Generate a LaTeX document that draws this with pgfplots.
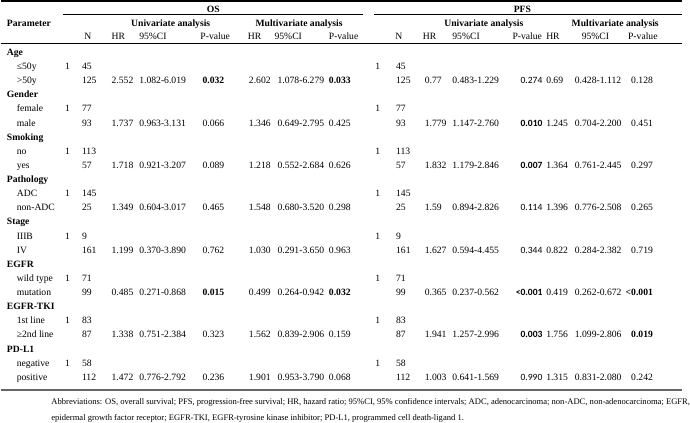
\documentclass[border=0pt]{standalone}
\usepackage{pgfplots}
\pgfplotsset{compat=1.18}
\usepackage{fontspec}
\setmainfont{Liberation Serif}
\newfontfamily\carlito{Carlito}
\newcommand{\fs}{\fontsize{9.8}{12}\selectfont}
\newcommand{\cbold}[1]{{\carlito\bfseries\fontsize{9.7}{12}\selectfont #1}}
\newcommand{\creg}[1]{{\carlito\fontsize{9.7}{12}\selectfont #1}}
\newcommand{\Lt}[3]{\node[anchor=base west,inner sep=0pt,font=\fs] at (axis cs:#1,#2) {#3};}
\newcommand{\Ct}[3]{\node[anchor=base,inner sep=0pt,font=\fs] at (axis cs:#1,#2) {#3};}
% OS columns: N, HR, CI, P, HR, CI, P
\newcommand{\osrow}[8]{\Lt{82}{#1}{#2}\Lt{112}{#1}{#3}\Lt{140}{#1}{#4}\Lt{204}{#1}{#5}%
  \Lt{251}{#1}{#6}\Lt{280}{#1}{#7}\Lt{332}{#1}{#8}}
% PFS columns
\newcommand{\pfsrow}[8]{\Lt{400}{#1}{#2}\Lt{429}{#1}{#3}\Lt{457}{#1}{#4}\Lt{526}{#1}{#5}%
  \Lt{552}{#1}{#6}\Lt{581}{#1}{#7}\Lt{638}{#1}{#8}}
% reference level row: y, level label, N
\newcommand{\refrow}[3]{\Lt{16}{#1}{#2}\Lt{65}{#1}{1}\Lt{82}{#1}{#3}\Lt{379}{#1}{1}\Lt{400}{#1}{#3}}
\begin{document}
\begin{tikzpicture}
\begin{axis}[
  width=690bp, height=432bp, scale only axis,
  xmin=0, xmax=690, ymin=0, ymax=432, y dir=reverse,
  axis lines=none, clip=false, xtick=\empty, ytick=\empty,
  rule/.style={black, mark=none},
]
% rules
\addplot[rule, line width=1.7bp] coordinates {(0,1.2)(690,1.2)};
\addplot[rule, line width=0.7bp] coordinates {(63,15)(367,15)};
\addplot[rule, line width=0.7bp] coordinates {(378,15)(690,15)};
\addplot[rule, line width=0.7bp] coordinates {(0,44.3)(690,44.3)};
\addplot[rule, line width=1.7bp, color=black!60] coordinates {(0,395.5)(690,395.5)};

% headers
\Ct{215}{13.5}{\bfseries OS}\Ct{528}{13.5}{\bfseries PFS}
\Ct{172}{27}{\bfseries Univariate analysis}\Ct{302}{27}{\bfseries Multivariate analysis}
\Ct{489}{27}{\bfseries Univariate analysis}\Ct{622}{27}{\bfseries Multivariate analysis}
\Lt{6}{27}{\bfseries Parameter}
\Ct{88}{40.5}{N}\Ct{119}{40.5}{HR}\Ct{154}{40.5}{95\%CI}\Ct{217}{40.5}{P-value}
\Ct{257}{40.5}{HR}\Ct{291}{40.5}{95\%CI}\Ct{347}{40.5}{P-value}
\Ct{403}{40.5}{N}\Ct{434}{40.5}{HR}\Ct{471}{40.5}{95\%CI}\Ct{533}{40.5}{P-value}
\Ct{559}{40.5}{HR}\Ct{602}{40.5}{95\%CI}\Ct{650}{40.5}{P-value}

% Age
\Lt{6}{56.5}{\bfseries Age}
\refrow{70.8}{≤50y}{45}
\Lt{16}{85.1}{>50y}
\osrow{85.1}{125}{2.552}{1.082-6.019}{\bfseries 0.032}{2.602}{1.078-6.279}{\bfseries 0.033}
\pfsrow{85.1}{125}{0.77}{0.483-1.229}{\creg{0.274}}{0.69}{0.428-1.112}{0.128}
% Gender
\Lt{6}{99.4}{\bfseries Gender}
\refrow{113.7}{female}{77}
\Lt{16}{128.0}{male}
\osrow{128.0}{93}{1.737}{0.963-3.131}{0.066}{1.346}{0.649-2.795}{0.425}
\pfsrow{128.0}{93}{1.779}{1.147-2.760}{\cbold{0.010}}{1.245}{0.704-2.200}{0.451}
% Smoking
\Lt{6}{142.3}{\bfseries Smoking}
\refrow{156.6}{no}{113}
\Lt{16}{170.9}{yes}
\osrow{170.9}{57}{1.718}{0.921-3.207}{0.089}{1.218}{0.552-2.684}{0.626}
\pfsrow{170.9}{57}{1.832}{1.179-2.846}{\cbold{0.007}}{1.364}{0.761-2.445}{0.297}
% Pathology
\Lt{6}{185.2}{\bfseries Pathology}
\refrow{199.5}{ADC}{145}
\Lt{16}{213.8}{non-ADC}
\osrow{213.8}{25}{1.349}{0.604-3.017}{0.465}{1.548}{0.680-3.520}{0.298}
\pfsrow{213.8}{25}{1.59}{0.894-2.826}{\creg{0.114}}{1.396}{0.776-2.508}{0.265}
% Stage
\Lt{6}{228.1}{\bfseries Stage}
\refrow{242.4}{IIIB}{9}
\Lt{16}{256.7}{IV}
\osrow{256.7}{161}{1.199}{0.370-3.890}{0.762}{1.030}{0.291-3.650}{0.963}
\pfsrow{256.7}{161}{1.627}{0.594-4.455}{\creg{0.344}}{0.822}{0.284-2.382}{0.719}
% EGFR
\Lt{6}{271.0}{\bfseries EGFR}
\refrow{285.3}{wild type}{71}
\Lt{16}{299.6}{mutation}
\osrow{299.6}{99}{0.485}{0.271-0.868}{\bfseries 0.015}{0.499}{0.264-0.942}{\bfseries 0.032}
\pfsrow{299.6}{99}{0.365}{0.237-0.562}{\llap{\cbold{<}}\cbold{0.001}}{0.419}{0.262-0.672}{\llap{\bfseries <}\bfseries 0.001}
% EGFR-TKI
\Lt{6}{313.9}{\bfseries EGFR-TKI}
\refrow{328.2}{1st line}{83}
\Lt{16}{342.5}{≥2nd line}
\osrow{342.5}{87}{1.338}{0.751-2.384}{0.323}{1.562}{0.839-2.906}{0.159}
\pfsrow{342.5}{87}{1.941}{1.257-2.996}{\cbold{0.003}}{1.756}{1.099-2.806}{\bfseries 0.019}
% PD-L1
\Lt{6}{356.8}{\bfseries PD-L1}
\refrow{371.1}{negative}{58}
\Lt{16}{385.4}{positive}
\osrow{385.4}{112}{1.472}{0.776-2.792}{0.236}{1.901}{0.953-3.790}{0.068}
\pfsrow{385.4}{112}{1.003}{0.641-1.569}{\creg{0.990}}{1.315}{0.831-2.080}{0.242}

% footnote
\node[anchor=base west,inner sep=0pt,font=\fontsize{8.7}{10}\selectfont] at (axis cs:51,409.5)
  {Abbreviations: OS, overall survival; PFS, progression-free survival; HR, hazard ratio; 95\%CI, 95\% confidence intervals; ADC, adenocarcinoma; non-ADC, non-adenocarcinoma; EGFR,};
\node[anchor=base west,inner sep=0pt,font=\fontsize{8.7}{10}\selectfont] at (axis cs:51,426)
  {epidermal growth factor receptor; EGFR-TKI, EGFR-tyrosine kinase inhibitor; PD-L1, programmed cell death-ligand 1.};
\end{axis}
\end{tikzpicture}
\end{document}
